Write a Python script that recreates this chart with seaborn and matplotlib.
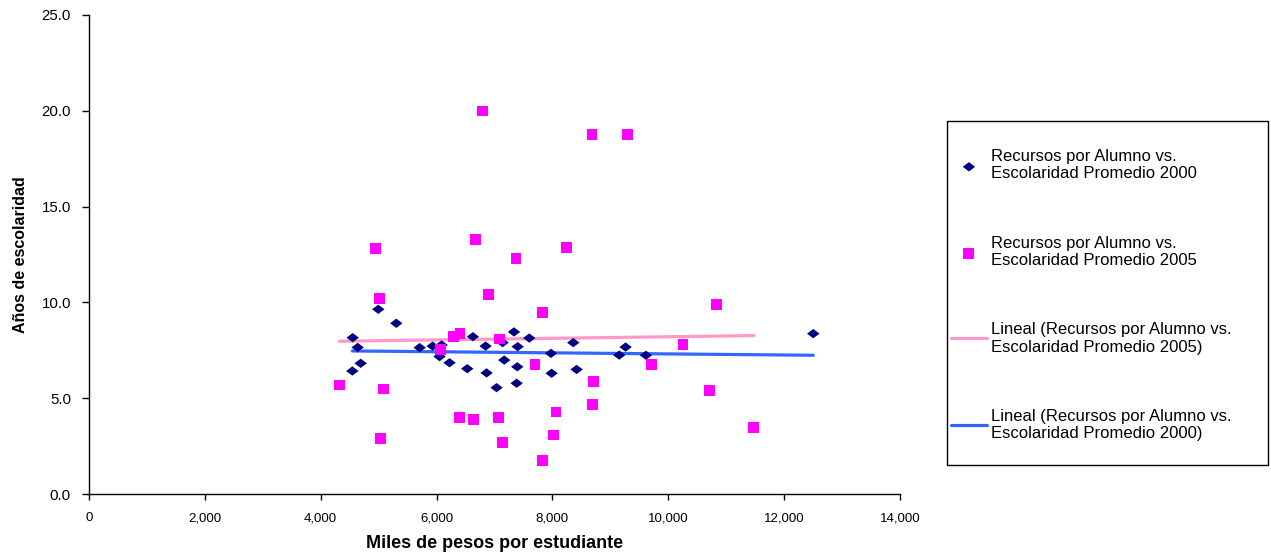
import numpy as np
import pandas as pd
import matplotlib
matplotlib.use("Agg")
import matplotlib.pyplot as plt
from matplotlib.patches import Rectangle
import seaborn as sns

# recursos por alumno (miles de pesos) vs anos de escolaridad
x_2000 = [4552, 4638, 4690, 4546, 4994, 5305, 5708, 5932, 6087, 6052, 6224,
          6530, 6627, 6846, 6863, 7036, 7140, 7168, 7336, 7400, 7393, 7382,
          7600, 7975, 7986, 8360, 8417, 9263, 9153, 9614, 12503]
y_2000 = [8.16, 7.65, 6.82, 6.42, 9.64, 8.91, 7.64, 7.72, 7.78, 7.17, 6.85,
          6.54, 8.21, 7.72, 6.32, 5.55, 7.90, 6.99, 8.46, 7.69, 6.64, 5.78,
          8.14, 7.34, 6.30, 7.90, 6.50, 7.67, 7.25, 7.24, 8.37]

x_2005 = [6794, 4948, 6668, 7371, 5016, 6904, 6293, 6404, 6064, 7082, 4321,
          5079, 6392, 6640, 7071, 5027, 7140, 8683, 9292, 8235, 7824, 7699,
          9706, 8706, 8689, 8062, 8022, 7830, 10254, 10840, 10719, 11479]
y_2005 = [19.99, 12.79, 13.29, 12.28, 10.18, 10.39, 8.21, 8.39, 7.52, 8.09,
          5.69, 5.48, 4.00, 3.90, 3.98, 2.89, 2.70, 18.77, 18.77, 12.87, 9.48,
          6.78, 6.78, 5.86, 4.68, 4.28, 3.08, 1.77, 7.78, 9.88, 5.38, 3.48]

lab_2000 = "Recursos por Alumno vs.\nEscolaridad Promedio 2000"
lab_2005 = "Recursos por Alumno vs.\nEscolaridad Promedio 2005"
lab_fit_2005 = "Lineal (Recursos por Alumno vs.\nEscolaridad Promedio 2005)"
lab_fit_2000 = "Lineal (Recursos por Alumno vs.\nEscolaridad Promedio 2000)"

df00 = pd.DataFrame({"x": x_2000, "y": y_2000})
df05 = pd.DataFrame({"x": x_2005, "y": y_2005})

sns.set_style("white")
plt.rcParams["font.family"] = ["Liberation Sans", "DejaVu Sans"]
plt.rcParams["text.color"] = "black"

W, H = 1271, 555
fig = plt.figure(figsize=(W / 100, H / 100), dpi=100)
ax = fig.add_axes([89 / W, 61 / H, 811 / W, 479 / H])

# flattened diamond like the excel marker
diamond = [(-1, 0), (0, 0.75), (1, 0), (0, -0.75), (-1, 0)]

sns.regplot(data=df05, x="x", y="y", scatter=False, ci=None, ax=ax,
            label=lab_fit_2005, line_kws={"color": "#FF99CC", "lw": 2.3})
sns.regplot(data=df00, x="x", y="y", scatter=False, ci=None, ax=ax,
            label=lab_fit_2000, line_kws={"color": "#3366FF", "lw": 2.3})
sns.scatterplot(data=df00, x="x", y="y", marker=diamond, s=80, color="#000080",
                edgecolor="none", ax=ax, label=lab_2000, zorder=3)
sns.scatterplot(data=df05, x="x", y="y", marker="s", s=62, color="#FF00FF",
                edgecolor="none", ax=ax, label=lab_2005, zorder=3)

ax.set_xlim(0, 14000)
ax.set_ylim(0, 25)
ax.set_xticks(np.arange(0, 14001, 2000))
ax.set_yticks(np.arange(0, 25.1, 5))
ax.xaxis.set_major_formatter(matplotlib.ticker.FuncFormatter(lambda v, p: f"{v:,.0f}"))
ax.yaxis.set_major_formatter(matplotlib.ticker.FormatStrFormatter("%.1f"))
ax.tick_params(axis="x", direction="out", length=4, width=1, labelsize=9.5,
               bottom=True, pad=9, colors="black")
ax.tick_params(axis="y", direction="out", length=5, width=1, labelsize=10.8,
               left=True, pad=8, colors="black")
for s in ["top", "right"]:
    ax.spines[s].set_visible(False)
for s in ["left", "bottom"]:
    ax.spines[s].set_color("black")
    ax.spines[s].set_linewidth(1)

ax.set_xlabel("Miles de pesos por estudiante", fontsize=13, fontweight="bold",
              labelpad=8, color="black")
ax.set_ylabel("Años de escolaridad", fontsize=11.5, fontweight="bold",
              labelpad=10, color="black")

# legend box
fig.patches.append(Rectangle((947 / W, 1 - 465 / H), 321 / W, 344 / H,
                             transform=fig.transFigure, fill=False,
                             edgecolor="black", linewidth=1))

handles, labels = ax.get_legend_handles_labels()
order = [lab_2000, lab_2005, lab_fit_2005, lab_fit_2000]
hmap = dict(zip(labels, handles))
leg = ax.legend([hmap[l] for l in order], order, loc="upper left",
                bbox_to_anchor=(951 / W, 1 - 149 / H),
                bbox_transform=fig.transFigure, frameon=False,
                fontsize=12, labelspacing=3.25, borderpad=0,
                handlelength=2.15, handletextpad=0.25, borderaxespad=0)

fig.savefig("out.png", dpi=100)
